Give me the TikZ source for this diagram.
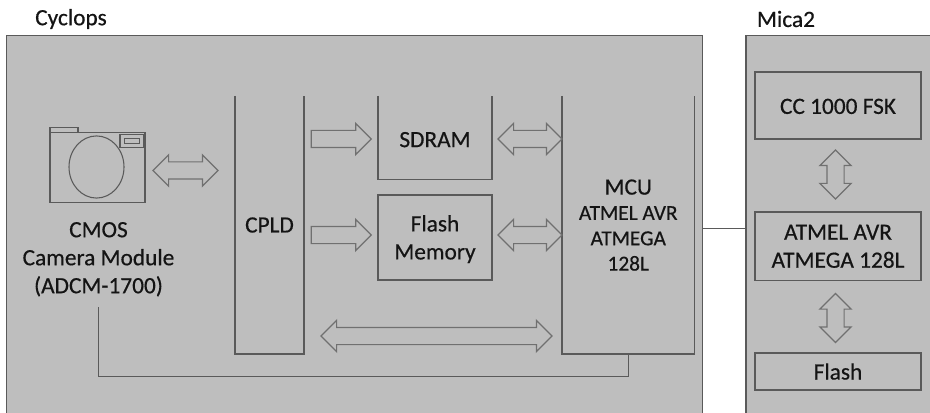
\documentclass[tikz,border=0pt]{standalone}
\usepackage{fontspec}
\setmainfont{Carlito}[RawFeature={embolden=0.5}]
\usetikzlibrary{shapes.arrows}
\definecolor{panelgrey}{HTML}{BEBEBE}
\definecolor{linegrey}{HTML}{5A5A5A}
\definecolor{arrowgrey}{HTML}{707070}
\definecolor{inkgrey}{HTML}{141414}
\tikzset{
  panel/.style={draw=linegrey,fill=panelgrey,line width=1.1pt,anchor=north west,inner sep=0pt,outer sep=0pt},
  plainbox/.style={draw=linegrey,line width=1.1pt,anchor=north west,inner sep=0pt,outer sep=0pt,align=center,text=inkgrey,font=\fontsize{17.5}{21}\selectfont},
  ubox/.style={anchor=north west,inner sep=0pt,outer sep=0pt,align=center,text=inkgrey,font=\fontsize{17.5}{21}\selectfont},
  uline/.style={draw=linegrey,line width=1.1pt},
  wire/.style={draw=linegrey,line width=1pt},
  txt/.style={text=inkgrey,inner sep=0pt,outer sep=0pt,align=center,font=\fontsize{17.5}{21}\selectfont},
  twoway/.style={shape=double arrow,draw=arrowgrey,line width=.9pt,double arrow head extend=5.25pt,double arrow tip angle=90,double arrow head indent=0pt,inner xsep=0pt,inner ysep=6pt,outer sep=0pt},
  oneway/.style={shape=single arrow,draw=arrowgrey,line width=.9pt,single arrow head extend=5.25pt,single arrow tip angle=90,inner xsep=0pt,inner ysep=6pt,outer sep=0pt},
}
\begin{document}
\begin{tikzpicture}[x=.75pt,y=-.75pt]
\clip (0,0) rectangle (930,413);
\fill[white] (0,0) rectangle (930,413);
% panels
\node[panel,minimum width=696*.75pt,minimum height=420*.75pt] (cyclops) at (6.5,35.5) {};
\node[panel,minimum width=230*.75pt,minimum height=420*.75pt] (mica) at (746,35.5) {};
\node[txt] (cyclopslabel) at (71,19) {Cyclops};
\node[txt] (micalabel) at (786,19) {Mica2};
% camera
\node[draw=linegrey,line width=.9pt,anchor=north west,inner sep=0pt,outer sep=0pt,minimum width=95*.75pt,minimum height=70*.75pt] (camera) at (50,132.5) {};
\node[draw=linegrey,line width=.8pt,anchor=north west,inner sep=0pt,outer sep=0pt,minimum width=28*.75pt,minimum height=5*.75pt] (tab) at (50,127.5) {};
\node[draw=linegrey,line width=.8pt,shape=circle,inner sep=0pt,outer sep=0pt,minimum size=55*.75pt,yscale=1.13] (lens) at (96.5,167) {};
\node[draw=linegrey,line width=1pt,anchor=north west,inner sep=0pt,outer sep=0pt,minimum width=24*.75pt,minimum height=13*.75pt] (finder) at (120,134.5) {};
\node[draw=linegrey,line width=.8pt,anchor=north west,inner sep=0pt,outer sep=0pt,minimum width=15*.75pt,minimum height=5*.75pt] (finderin) at (124.5,138.5) {};
\node[txt,minimum height=98*.75pt,text depth=.5pt] (camlabel) at (98.5,258) {CMOS\\Camera Module\\(ADCM-1700)};
% open boxes
\node[ubox,minimum width=69*.75pt,minimum height=258*.75pt] (cpld) at (235,96) {CPLD};
\draw[uline] (cpld.north west) -- (cpld.south west) -- (cpld.south east) -- (cpld.north east);
\node[ubox,minimum width=114*.75pt,minimum height=83.5*.75pt,text height=14.2pt] (sdram) at (378,96) {SDRAM};
\draw[uline] (sdram.north west) -- (sdram.south west) -- (sdram.south east) -- (sdram.north east);
\node[plainbox,minimum width=114*.75pt,minimum height=85*.75pt,text depth=.3pt] (flashmem) at (378,195) {Flash\\Memory};
\node[ubox,minimum width=132.5*.75pt,minimum height=258*.75pt,text depth=-3pt,font=\fontsize{16}{19}\selectfont] (mcu) at (562,96) {{\fontsize{17.5}{19}\selectfont MCU}\\ATMEL AVR\\ATMEGA\\128L};
\draw[uline] (mcu.north west) -- (mcu.south west) -- (mcu.south east) -- (mcu.north east);
% mica boxes
\node[plainbox,minimum width=166*.75pt,minimum height=67*.75pt,text height=12.7pt] (cc) at (755,72) {CC 1000 FSK};
\node[plainbox,minimum width=166*.75pt,minimum height=68.5*.75pt,text depth=-4pt] (atmel) at (755,212) {ATMEL AVR\\ATMEGA 128L};
\node[plainbox,minimum width=166*.75pt,minimum height=37*.75pt] (flash) at (755,353) {Flash};
% block arrows
\node[twoway,minimum height=65*.75pt,minimum width=30*.75pt] (a1) at (185.5,170.5) {};
\node[oneway,minimum height=60*.75pt,minimum width=30*.75pt] (a2) at (337,139) {};
\node[oneway,minimum height=60*.75pt,minimum width=30*.75pt] (a3) at (337,235) {};
\node[twoway,minimum height=64*.75pt,minimum width=30*.75pt] (a4) at (530,139) {};
\node[twoway,minimum height=64*.75pt,minimum width=30*.75pt] (a5) at (530,235) {};
\node[twoway,minimum height=231*.75pt,minimum width=30*.75pt] (a6) at (436.5,336) {};
\node[twoway,minimum height=49*.75pt,minimum width=30*.75pt,rotate=90] (a7) at (835.5,174.5) {};
\node[twoway,minimum height=49*.75pt,minimum width=30*.75pt,rotate=90] (a8) at (835.5,318) {};
% wires
\coordinate (busy) at (0,376.5);
\coordinate (linky) at (0,228.5);
\draw[wire] (camlabel.south) -- (camlabel.south |- busy) -- (mcu.south |- busy) -- (mcu.south);
\draw[wire] (cyclops.east |- linky) -- (mica.west |- linky);
\end{tikzpicture}
\end{document}
